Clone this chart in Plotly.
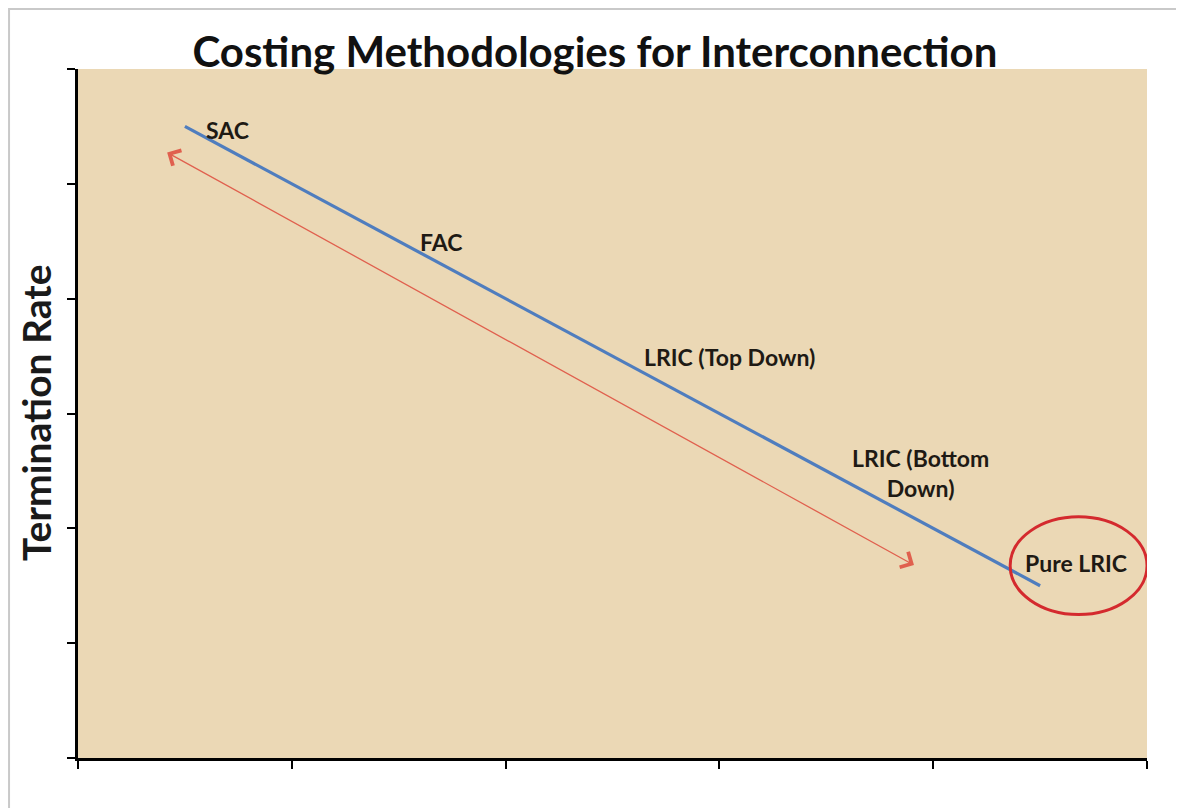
import plotly.graph_objects as go

# ---- data ----
x_range = [0, 5]
y_range = [0, 6]
x_ticks = [0, 1, 2, 3, 4, 5]
y_ticks = [0, 1, 2, 3, 4, 5, 6]

line_x = [0.5, 4.5]          # costing methodology line (termination rate falls)
line_y = [5.5, 1.5]

arrow_start = [0.41, 5.28]   # double-headed arrow
arrow_end = [3.91, 1.68]

labels = ["SAC", "FAC", "LRIC (Top Down)", "LRIC (Bottom<br>Down)", "Pure LRIC"]
label_x = [0.70, 1.70, 3.045, 3.94, 4.67]
label_y = [5.47, 4.49, 3.49, 2.48, 1.70]

highlight_x = [4.36, 5.0]    # ellipse round "Pure LRIC"
highlight_y = [1.25, 2.10]

title_text = "Costing Methodologies for Interconnection"
y_title = "Termination Rate"

FONT = "Lato"

fig = go.Figure()
fig.add_trace(go.Scatter(
    x=line_x, y=line_y, mode="lines",
    line=dict(color="#4F7DBE", width=3.2),
    hoverinfo="skip", showlegend=False,
))

for t, lx, ly in zip(labels, label_x, label_y):
    fig.add_annotation(x=lx, y=ly, xref="x", yref="y", text=f"<b>{t}</b>",
                       showarrow=False, font=dict(family=FONT, size=23, color="#1E1A14"),
                       align="center", xanchor="center", yanchor="middle")

fig.add_annotation(
    x=arrow_end[0], y=arrow_end[1], ax=arrow_start[0], ay=arrow_start[1],
    xref="x", yref="y", axref="x", ayref="y", text="",
    showarrow=True, arrowhead=4, startarrowhead=4, arrowside="end+start",
    arrowsize=2.6, startarrowsize=2.6, arrowwidth=1.3, arrowcolor="#E0604E",
    standoff=0, startstandoff=0,
)

fig.add_shape(type="circle", xref="x", yref="y",
              x0=highlight_x[0], x1=highlight_x[1], y0=highlight_y[0], y1=highlight_y[1],
              line=dict(color="#D42A2E", width=3))

# faint outer frame (top and left edges visible)
fig.add_shape(type="rect", xref="paper", yref="paper",
              x0=-0.0645, x1=1.2, y0=-0.3, y1=1.0871,
              line=dict(color="#C9C9C9", width=2), layer="below")

fig.add_annotation(x=-0.0393, y=0.502, xref="paper", yref="paper",
                   xanchor="center", yanchor="middle",
                   text=f"<b>{y_title}</b>", textangle=-90, showarrow=False,
                   font=dict(family=FONT, size=39, color="#1A1A1A"))

fig.update_layout(
    width=1176, height=800,
    margin=dict(l=70, r=37, t=61, b=50),
    paper_bgcolor="white",
    plot_bgcolor="#EBD8B5",
    title=dict(text=f"<b>{title_text}</b>", x=0.4991, xanchor="center",
               y=0.945, yanchor="middle", yref="container",
               font=dict(family=FONT, size=42, color="#111111")),
    showlegend=False,
)
fig.update_xaxes(range=x_range, tickvals=x_ticks, showticklabels=False,
                 ticks="outside", ticklen=8, tickwidth=2, tickcolor="black",
                 showline=True, linecolor="black", linewidth=3,
                 showgrid=False, zeroline=False)
fig.update_yaxes(range=y_range, tickvals=y_ticks, showticklabels=False,
                 ticks="outside", ticklen=8, tickwidth=2, tickcolor="black",
                 showline=True, linecolor="black", linewidth=3,
                 showgrid=False, zeroline=False)

fig.write_html("out.html")
